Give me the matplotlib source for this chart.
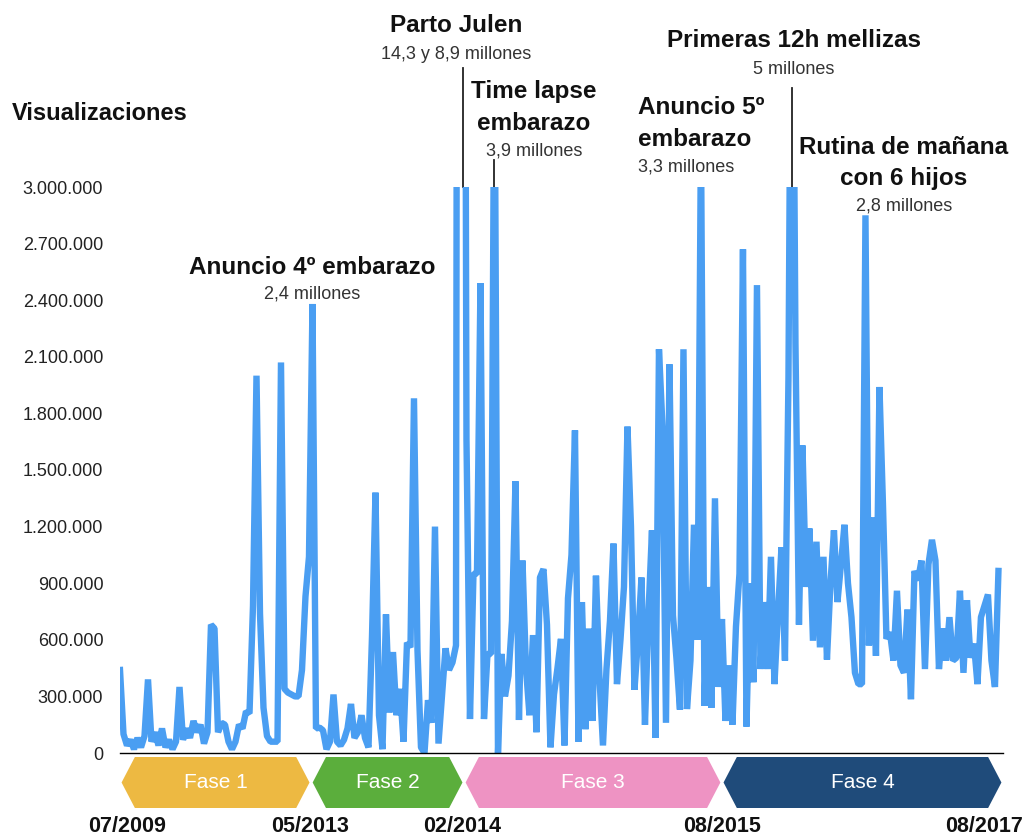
import numpy as np
import matplotlib
matplotlib.use("Agg")
import matplotlib.pyplot as plt
from matplotlib.patches import Polygon
import matplotlib.transforms as mtransforms

plt.rcParams['font.family'] = ['Liberation Sans', 'DejaVu Sans']

# views per video, in thousands (peaks above 3M are clipped)
views_k = [
    440, 100, 40, 70, 20, 80, 30, 90, 390, 60,
    110, 40, 130, 30, 70, 20, 60, 350, 70, 130,
    80, 170, 110, 150, 50, 110, 680, 660, 110, 160,
    150, 60, 20, 60, 150, 130, 220, 210, 780, 2000,
    740, 240, 90, 60, 60, 60, 2070, 340, 320, 310,
    300, 300, 440, 830, 1040, 2380, 130, 135, 120, 20,
    60, 310, 60, 40, 70, 130, 260, 80, 110, 200,
    80, 30, 615, 1380, 200, 20, 735, 215, 535, 200,
    340, 60, 585, 560, 1880, 545, 30, 0, 280, 160,
    1200, 50, 300, 555, 440, 480, 570, 14300, 8900, 1660,
    180, 950, 950, 2490, 180, 525, 525, 3900, 0, 525,
    300, 410, 700, 1440, 175, 1020, 450, 200, 625, 110,
    930, 975, 680, 30, 310, 450, 605, 40, 820, 1050,
    1710, 60, 800, 126, 660, 170, 940, 400, 40, 445,
    700, 1110, 365, 600, 880, 1730, 1200, 335, 600, 930,
    149, 740, 1180, 80, 2140, 1730, 160, 2060, 730, 500,
    230, 2140, 233, 490, 1210, 600, 3300, 250, 880, 240,
    1350, 350, 710, 170, 465, 150, 670, 950, 2670, 140,
    900, 375, 2480, 445, 800, 445, 1040, 365, 740, 1090,
    490, 1990, 5000, 2170, 680, 1630, 880, 1190, 595, 1120,
    560, 1040, 495, 900, 1180, 800, 1000, 1210, 900, 720,
    425, 365, 365, 2850, 570, 1250, 515, 1940, 1320, 605,
    640, 490, 860, 465, 425, 760, 285, 965, 915, 1020,
    445, 1000, 1130, 1020, 445, 660, 490, 720, 490, 505,
    860, 425, 810, 505, 580, 365, 720, 780, 840, 490,
    350, 965,
]

y_ticks = [0, 300000, 600000, 900000, 1200000, 1500000, 1800000,
           2100000, 2400000, 2700000, 3000000]

# phases: name, start index, end index, colour
phase_names = ["Fase 1", "Fase 2", "Fase 3", "Fase 4"]
phase_edges = [0, 54.6, 98.3, 172.0, 252.3]
phase_colors = ["#EDB942", "#5BAE3C", "#EE93C3", "#1F4B7A"]

date_labels = ["07/2009", "05/2013", "02/2014", "08/2015", "08/2017"]
date_pos = [2.0, 54.3, 97.7, 172.0, 247.0]

# annotated videos: (title lines, subtitle, index of video)
events = [
    (["Anuncio 4º embarazo"], "2,4 millones", 55),
    (["Parto Julen"], "14,3 y 8,9 millones", 98),
    (["Time lapse", "embarazo"], "3,9 millones", 107),
    (["Anuncio 5º", "embarazo"], "3,3 millones", 166),
    (["Primeras 12h mellizas"], "5 millones", 192),
    (["Rutina de mañana", "con 6 hijos"], "2,8 millones", 213),
]

views = np.array(views_k) * 1000
x = np.arange(len(views))

W, H = 1030, 839
fig = plt.figure(figsize=(W / 100, H / 100), dpi=100)
ax = fig.add_axes([120 / W, (H - 753) / H, (1003 - 120) / W, (753 - 187) / H])

ax.plot(x, views, color="#4A9EF2", lw=4.6, solid_joinstyle="bevel", zorder=3)
ax.set_xlim(0, 252.3)
ax.set_ylim(0, 3000000)

for s in ["left", "right", "top"]:
    ax.spines[s].set_visible(False)
ax.spines["bottom"].set_color("black")
ax.spines["bottom"].set_linewidth(1)
ax.spines["bottom"].set_zorder(4)

ax.set_xticks([])
ax.set_yticks(y_ticks)
ax.set_yticklabels([f"{v:,}".replace(",", ".") for v in y_ticks])
ax.tick_params(axis="y", length=0, pad=12, labelsize=13, labelcolor="#222222")

# y axis title
fig.text(12 / W, 1 - 114 / H, "Visualizaciones", fontsize=17, fontweight="bold",
         ha="left", va="center", color="#111111")


def py(pix):
    # pixel row in the picture -> value on the y axis
    return (753 - pix) / 566 * 3000000


def px(pix):
    # pixel column in the picture -> index on the x axis
    return (pix - 120) / 3.5


# annotations
def label(xc, ys, lines, sub, ha="center"):
    for line, yy in zip(lines, ys[:-1]):
        ax.text(xc, py(yy), line, fontsize=17.5, fontweight="bold", ha=ha,
                va="center", color="#111111")
    ax.text(xc, py(ys[-1]), sub, fontsize=13, ha=ha, va="center", color="#333333")


label(px(312), [267, 294], events[0][0], events[0][1])
label(px(456), [26, 55], events[1][0], events[1][1])
label(px(534), [92, 123, 151], events[2][0], events[2][1])
label(px(638), [108, 139, 167], events[3][0], events[3][1], ha="left")
label(px(794), [41, 70], events[4][0], events[4][1])
label(px(904), [148, 178, 206], events[5][0], events[5][1])

# leader lines
for idx, top in [(events[1][2], 68), (events[2][2], 160), (events[4][2], 88)]:
    ax.plot([idx, idx], [3000000, py(top)], color="#222222", lw=1.3, clip_on=False)

# phase chevrons under the axis
trans = mtransforms.blended_transform_factory(ax.transData, ax.transAxes)
y0, y1 = -4 / 566, -55 / 566
ym = (y0 + y1) / 2
tip = 3.8
for i, name in enumerate(phase_names):
    a = phase_edges[i] + 0.45
    b = phase_edges[i + 1] - 0.45
    pts = [(a, ym), (a + tip, y0), (b - tip, y0), (b, ym), (b - tip, y1), (a + tip, y1)]
    ax.add_patch(Polygon(pts, closed=True, facecolor=phase_colors[i], edgecolor="none",
                         transform=trans, clip_on=False))
    ax.text((a + b) / 2, ym, name, transform=trans, ha="center", va="center",
            fontsize=15, color="white")

for lab, pos in zip(date_labels, date_pos):
    ax.text(pos, -(826 - 753) / 566, lab, transform=trans, ha="center", va="center",
            fontsize=15.5, fontweight="bold", color="#111111")

fig.savefig("out.png", dpi=100)
